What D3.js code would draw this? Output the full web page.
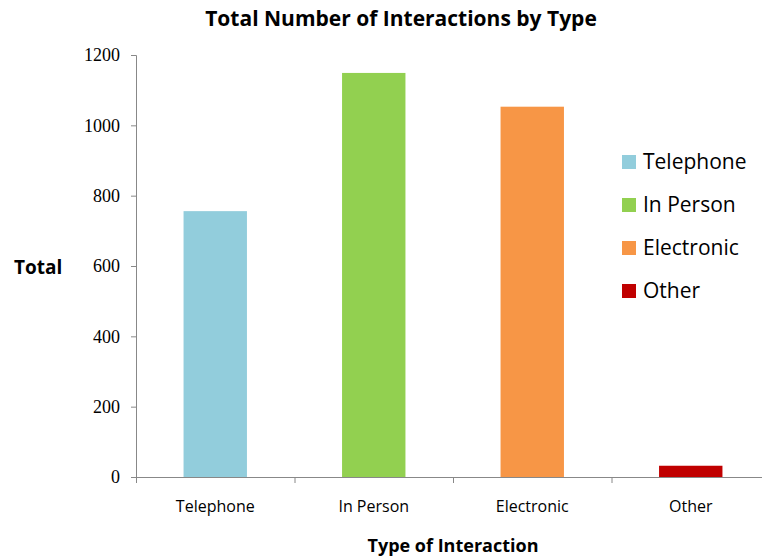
<!DOCTYPE html>
<html>
<head>
<meta charset="utf-8">
<script src="https://cdn.jsdelivr.net/npm/d3@7"></script>
<style>
  body { margin: 0; background: #fff; }
  svg { display: block; }
</style>
</head>
<body>
<script>
const categories = ["Telephone", "In Person", "Electronic", "Other"];
const totals = [756, 1149, 1053, 32];
const colors = ["#92cddc", "#92d050", "#f79646", "#c00000"];
const yTicks = [0, 200, 400, 600, 800, 1000, 1200];

const width = 762, height = 557;
const margin = { top: 55, right: -8, bottom: 80, left: 136 };
const sans = "'Open Sans', sans-serif";

const svg = d3.select("body").append("svg")
    .attr("width", width)
    .attr("height", height);

const x = d3.scaleBand()
    .domain(categories)
    .range([margin.left, width - margin.right])
    .paddingInner(0.6)
    .paddingOuter(0.3);

const y = d3.scaleLinear()
    .domain([0, 1200])
    .range([height - margin.bottom, margin.top]);

// bars
svg.selectAll("rect.bar")
    .data(categories)
    .enter()
    .append("rect")
    .attr("class", "bar")
    .attr("x", d => x(d))
    .attr("width", x.bandwidth())
    .attr("y", (d, i) => y(totals[i]))
    .attr("height", (d, i) => y(0) - y(totals[i]))
    .style("fill", (d, i) => colors[i]);

// y axis
const yAxis = d3.axisLeft(y)
    .tickValues(yTicks)
    .tickFormat(d3.format("d"))
    .tickSize(5)
    .tickPadding(11);
const gy = svg.append("g")
    .attr("transform", "translate(" + margin.left + ",0)")
    .call(yAxis)
    .attr("font-family", "'Liberation Serif', 'DejaVu Serif', serif")
    .attr("font-size", 18);
gy.select(".domain").attr("stroke", "#888");
gy.selectAll(".tick line").attr("stroke", "#888");
gy.selectAll("text").attr("fill", "#000");

// x axis with ticks between categories
const step = x.step();
const xBase = y(0);
const gx = svg.append("g");
gx.append("line")
    .attr("x1", margin.left).attr("x2", width)
    .attr("y1", xBase + 0.5).attr("y2", xBase + 0.5)
    .attr("stroke", "#888");
gx.selectAll("line.sep")
    .data(d3.range(categories.length + 1))
    .enter()
    .append("line")
    .attr("class", "sep")
    .attr("x1", i => margin.left + i * step + 0.5)
    .attr("x2", i => margin.left + i * step + 0.5)
    .attr("y1", xBase)
    .attr("y2", xBase + 6)
    .attr("stroke", "#888");
gx.selectAll("text")
    .data(categories)
    .enter()
    .append("text")
    .attr("x", d => x(d) + x.bandwidth() / 2)
    .attr("y", xBase + 35)
    .attr("text-anchor", "middle")
    .style("font-family", sans)
    .style("font-size", "16px")
    .text(d => d);

// titles
svg.append("text")
    .attr("x", 401)
    .attr("y", 26)
    .attr("text-anchor", "middle")
    .style("font-family", sans)
    .style("font-weight", "bold")
    .style("font-size", "21px")
    .text("Total Number of Interactions by Type");

svg.append("text")
    .attr("x", 14)
    .attr("y", 274)
    .style("font-family", sans)
    .style("font-weight", "bold")
    .style("font-size", "19px")
    .text("Total");

svg.append("text")
    .attr("x", 453)
    .attr("y", 552)
    .attr("text-anchor", "middle")
    .style("font-family", sans)
    .style("font-weight", "bold")
    .style("font-size", "18px")
    .text("Type of Interaction");

// legend
const legend = svg.append("g")
    .attr("transform", "translate(622,155)");
const items = legend.selectAll("g")
    .data(categories)
    .enter()
    .append("g")
    .attr("transform", (d, i) => "translate(0," + (i * 43) + ")");
items.append("rect")
    .attr("width", 14)
    .attr("height", 14)
    .style("fill", (d, i) => colors[i]);
items.append("text")
    .attr("x", 21)
    .attr("y", 14)
    .style("font-family", sans)
    .style("font-size", "21px")
    .text(d => d);
</script>
</body>
</html>
